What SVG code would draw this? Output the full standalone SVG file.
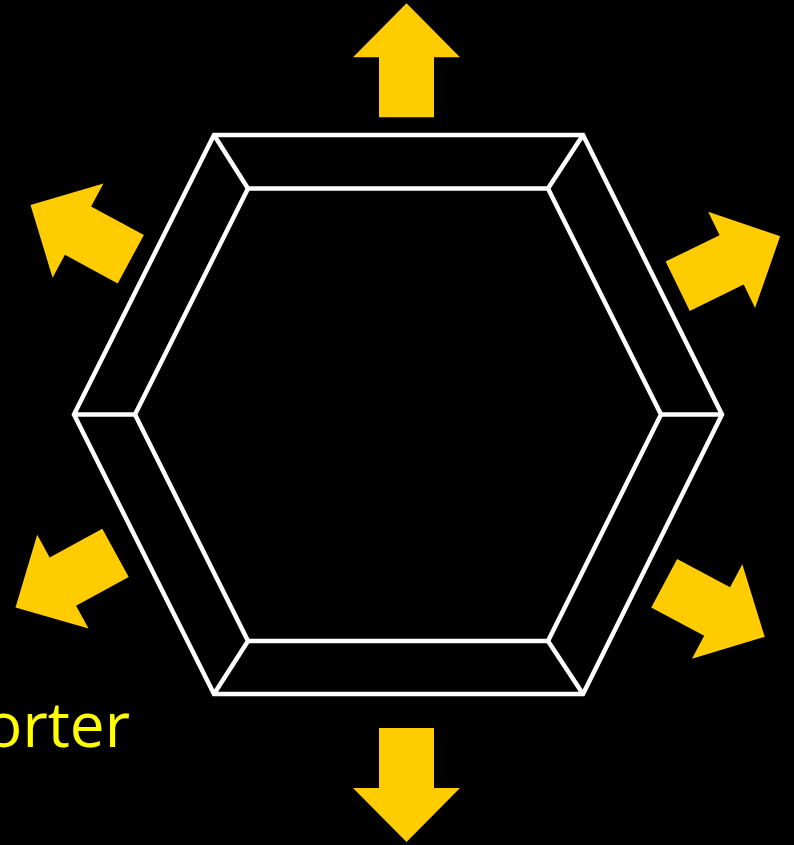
<svg xmlns="http://www.w3.org/2000/svg" xmlns:xlink="http://www.w3.org/1999/xlink" width="794" height="845" viewBox="0 0 794 845">
  <style>
    .hex { fill: none; stroke: #FFFFFF; stroke-width: 4.5; stroke-linejoin: miter; }
    .arrow { fill: #FFCC00; }
    .label { fill: #FFFF00; font-family: "Open Sans", "Noto Sans", "DejaVu Sans", sans-serif; font-size: 62px; }
  </style>
  <defs>
    <path id="blockArrow" class="arrow" d="M-27.5,0 L-27.5,-60 L-53.5,-60 L0,-114 L53.5,-60 L27.5,-60 L27.5,0 Z"/>
  </defs>
  <rect x="0" y="0" width="794" height="845" fill="#000000"/>

  <g id="hexagon">
    <polygon class="hex" points="214,135 583,135 722,414.5 583,694 214,694 74,414.5"/>
    <polygon class="hex" points="248,188.5 548,188.5 661,414.5 548,641 248,641 135,414.5"/>
    <line class="hex" x1="214" y1="135" x2="248" y2="188.5"/>
    <line class="hex" x1="583" y1="135" x2="548" y2="188.5"/>
    <line class="hex" x1="722" y1="414.5" x2="661" y2="414.5"/>
    <line class="hex" x1="583" y1="694" x2="548" y2="641"/>
    <line class="hex" x1="214" y1="694" x2="248" y2="641"/>
    <line class="hex" x1="74" y1="414.5" x2="135" y2="414.5"/>
  </g>

  <g id="arrows">
    <g id="arrow-top"><use xlink:href="#blockArrow" href="#blockArrow" transform="translate(406.5,117.3)"/></g>
    <g id="arrow-bottom"><use xlink:href="#blockArrow" href="#blockArrow" transform="translate(406.5,728) rotate(180)"/></g>
    <g id="arrow-upper-left"><use xlink:href="#blockArrow" href="#blockArrow" transform="translate(130.8,259.2) rotate(-61.6)"/></g>
    <g id="arrow-upper-right"><use xlink:href="#blockArrow" href="#blockArrow" transform="translate(677.7,286.2) rotate(64)"/></g>
    <g id="arrow-lower-left"><use xlink:href="#blockArrow" href="#blockArrow" transform="translate(115.5,552.8) rotate(-118.7)"/></g>
    <g id="arrow-lower-right"><use xlink:href="#blockArrow" href="#blockArrow" transform="translate(664.2,583.2) rotate(118.1)"/></g>
  </g>

  <g id="label">
    <text class="label" x="130" y="747" text-anchor="end">orter</text>
  </g>
</svg>
